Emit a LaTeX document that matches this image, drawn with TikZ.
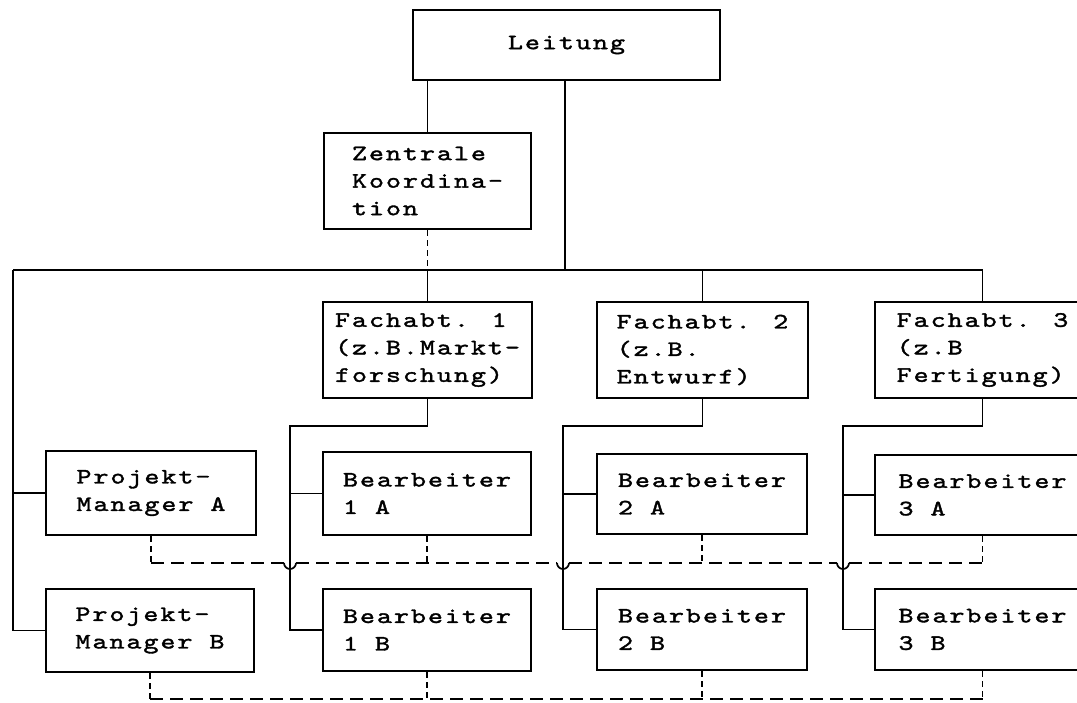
\documentclass[tikz,border=0pt]{standalone}
\usepackage{fontspec}
\usetikzlibrary{calc}
\newfontfamily\twfam{lmmono10-regular.otf}[FakeStretch=1.3,LetterSpace=9,FakeBold=1.6]
\newcommand{\twfont}{\twfam\fontsize{22}{27.5}\selectfont}
\tikzset{
  box/.style={draw, line width=2.4pt, inner sep=0pt, align=left,
    font=\twfont},
  conn/.style={line width=1.7pt},
  dsh/.style={line width=1.7pt, dash pattern=on 13pt off 7pt},
  dshs/.style={line width=1.7pt, dash pattern=on 6pt off 4pt},
  jmp/.style={line width=1.7pt},
}
\begin{document}
\begin{tikzpicture}[x=1pt,y=-1pt]
\useasboundingbox (0,0) rectangle (1077,702);
\clip (0,0) rectangle (1077,702);
% nodes
\node[box, minimum width=307pt, minimum height=70pt] (L) at (566.5,45) {Leitung};
\node[box, minimum width=207pt, minimum height=96pt] (Z) at (427.5,181) {Zentrale\\Koordina-\\tion};
\node[box, minimum width=209pt, minimum height=96pt] (F1) at (427.5,350) {Fachabt. 1\\(z.B.Markt-\\forschung)};
\node[box, minimum width=211pt, minimum height=96pt] (F2) at (702.5,350) {Fachabt. 2\\(z.B.\\Entwurf)};
\node[box, minimum width=215pt, minimum height=96pt] (F3) at (982.5,350) {Fachabt. 3\\(z.B\\Fertigung)};
\node[box, minimum width=210pt, minimum height=84pt] (PA) at (151,493) {Projekt-\\Manager A};
\node[box, minimum width=208pt, minimum height=83pt] (PB) at (150,630.5) {Projekt-\\Manager B};
\node[box, minimum width=208pt, minimum height=83pt] (B1A) at (427,493.5) {Bearbeiter\\1 A};
\node[box, minimum width=208pt, minimum height=82pt] (B1B) at (427,630) {Bearbeiter\\1 B};
\node[box, minimum width=210pt, minimum height=80pt] (B2A) at (702,494) {Bearbeiter\\2 A};
\node[box, minimum width=210pt, minimum height=81pt] (B2B) at (702,629.5) {Bearbeiter\\2 B};
\node[box, minimum width=215pt, minimum height=80pt] (B3A) at (982.5,495) {Bearbeiter\\3 A};
\node[box, minimum width=215pt, minimum height=81pt] (B3B) at (982.5,629.5) {Bearbeiter\\3 B};
% coordinates
\coordinate (busL) at (13,270);
\coordinate (lb) at (565,270);
\coordinate (t1) at (290,426);
\coordinate (t2) at (563,426);
\coordinate (t3) at (843,426);
\coordinate (dA) at (0,563);
\coordinate (dB) at (0,699);
\coordinate (x1) at (t1 |- dA);
\coordinate (x2) at (t2 |- dA);
\coordinate (x3) at (t3 |- dA);
% solid connectors
\draw[conn] (L.south -| Z.north) -- (Z.north);
\draw[conn] (L.south -| lb) -- (lb);
\draw[dshs] (Z.south) -- (Z.south |- lb);
\draw[conn] (busL) -- (busL -| F3.north) -- (F3.north);
\draw[conn] (busL -| F1.north) -- (F1.north);
\draw[conn] (busL -| F2.north) -- (F2.north);
\draw[conn] (busL) |- (PB.west);
\draw[conn] (busL |- PA.west) -- (PA.west);
\draw[conn] (F1.south) |- (t1) |- (B1B.west);
\draw[conn] (t1 |- B1A.west) -- (B1A.west);
\draw[conn] (F2.south) |- (t2) |- (B2B.west);
\draw[conn] (t2 |- B2A.west) -- (B2A.west);
\draw[conn] (F3.south) |- (t3) |- (B3B.west);
\draw[conn] (t3 |- B3A.west) -- (B3A.west);
% dashed line A with jumps
\draw[dsh] (PA.south |- dA) -- ([xshift=-6pt]x1);
\draw[jmp] ([xshift=-6pt]x1) arc[start angle=180, end angle=360, radius=6pt];
\draw[dsh] ([xshift=6pt]x1) -- ([xshift=-6pt]x2);
\draw[jmp] ([xshift=-6pt]x2) arc[start angle=180, end angle=360, radius=6pt];
\draw[dsh] ([xshift=6pt]x2) -- ([xshift=-6pt]x3);
\draw[jmp] ([xshift=-6pt]x3) arc[start angle=180, end angle=360, radius=6pt];
\draw[dsh] ([xshift=6pt]x3) -- (B3A.south |- dA);
\draw[dshs] (PA.south) -- (PA.south |- dA);
\draw[dshs] (B1A.south) -- (B1A.south |- dA);
\draw[dshs] (B2A.south) -- (B2A.south |- dA);
\draw[dshs] (B3A.south) -- (B3A.south |- dA);
% dashed line B
\draw[dsh] (PB.south |- dB) -- (B3B.south |- dB);
\draw[dshs] (PB.south) -- (PB.south |- dB);
\draw[dshs] (B1B.south) -- (B1B.south |- dB);
\draw[dshs] (B2B.south) -- (B2B.south |- dB);
\draw[dshs] (B3B.south) -- (B3B.south |- dB);
\end{tikzpicture}
\end{document}
